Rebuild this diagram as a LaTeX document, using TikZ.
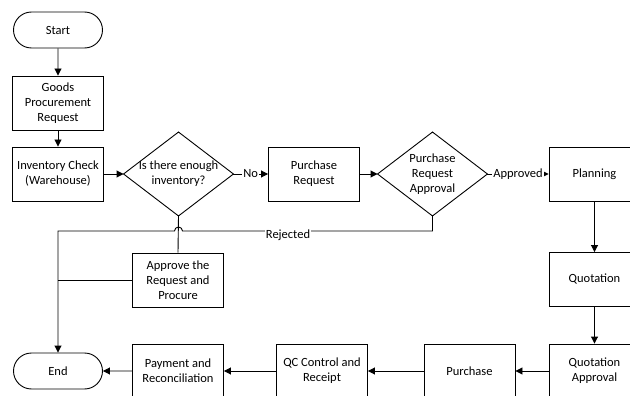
\documentclass[tikz,border=0pt]{standalone}
\usepackage{fontspec}
\setmainfont{Carlito}
\usetikzlibrary{arrows.meta,shapes.misc,calc}

\begin{document}
\begin{tikzpicture}[x=1pt,y=1pt,
  line width=0.9pt,
  every node/.style={font=\fontsize{12.5}{15}\selectfont},
  box/.style={draw, minimum width=91pt, minimum height=54pt, align=center, inner sep=1pt},
  term/.style={draw, rounded rectangle, minimum width=91pt, minimum height=36pt, inner sep=1pt},
  dec/.style={minimum width=109pt, minimum height=83pt, align=center, inner sep=0pt},
  flow/.style={-{Triangle[length=7pt,width=7pt]}},
  lbl/.style={fill=white, inner sep=1pt}]

\useasboundingbox (0,0) rectangle (630,-396);
\clip (0,0) rectangle (630,-396);

% process nodes
\node[term] (start) at (58,-30) {Start};
\node[box] (gpr) at (58,-103) {Goods\\Procurement\\Request};
\node[box] (inv) at (58,-174) {Inventory Check\\(Warehouse)};
\node[dec] (d1) at (178.5,-174) {Is there enough\\inventory?};
\node[box] (pr) at (314,-174) {Purchase\\Request};
\node[dec] (d2) at (432.5,-174) {Purchase\\Request\\Approval};
\node[box] (plan) at (594.5,-174) {Planning};
\node[box] (quot) at (594.5,-279.5) {Quotation};
\node[box] (qa) at (594.5,-371) {Quotation\\Approval};
\node[box] (pur) at (469.5,-371) {Purchase};
\node[box] (qc) at (322,-371) {QC Control and\\Receipt};
\node[box] (pay) at (178,-371) {Payment and\\Reconciliation};
\node[term] (end) at (58,-371) {End};
\node[box] (app) at (178,-280) {Approve the\\Request and\\Procure};

% decision outlines
\draw[line join=miter] (d1.west) -- (d1.north) -- (d1.east) -- (d1.south) -- cycle;
\draw[line join=miter] (d2.west) -- (d2.north) -- (d2.east) -- (d2.south) -- cycle;

% main flow
\draw[flow] (start) -- (gpr);
\draw[flow] (gpr) -- (inv);
\draw[flow] (inv) -- (d1.west);
\draw[flow] (d1.east) -- node[lbl] {No} (pr);
\draw[flow] (pr) -- (d2.west);
\draw[flow] (d2.east) -- node[lbl] {Approved} (plan);
\draw[flow] (plan) -- (quot);
\draw[flow] (quot) -- (qa);
\draw[flow] (qa) -- (pur);
\draw[flow] (pur) -- (qc);
\draw[flow] (qc) -- (pay);
\draw[flow] (pay) -- (end);

% enough inventory: approve and procure
\draw (d1.south) -- (app.north);

% rejected branch, hopping over the line below the first decision
\coordinate (rj) at (432.5,-231);
\coordinate (jn) at (d1.south |- rj);
\draw[flow] (d2.south) |- ([xshift=4pt]jn) arc[start angle=0, end angle=180, radius=4pt]
  -- (jn -| end) -- (end.north);
\node[lbl] (rjlbl) at (288,-235) {Rejected};

% procurement done: join the line to the end
\draw (app.west) -- (app.west -| end);

\end{tikzpicture}
\end{document}
